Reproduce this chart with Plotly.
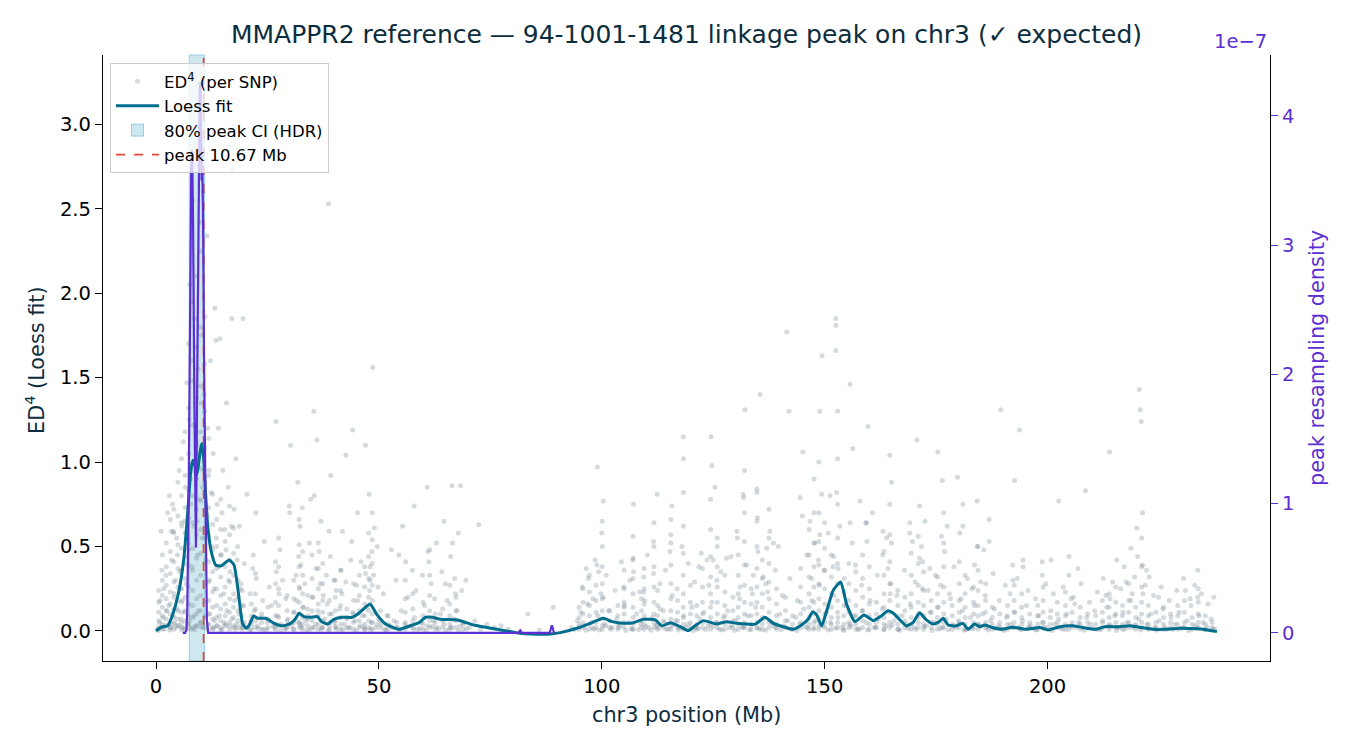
import plotly.graph_objects as go

# ---------------- data ----------------
loess_mb = [0.0, 1.0, 1.5, 2.6, 3.7, 5.0, 6.2, 7.1, 7.8, 8.3, 8.7, 9.1, 9.5, 10.0, 10.3, 10.7, 11.1, 11.6,
            12.3, 13.4, 14.6, 16.4, 17.5, 18.4, 19.4, 20.2, 20.9, 21.9, 22.8, 24.6, 26.5, 28.4, 30.2, 31.2,
            32.1, 33.2, 34.7, 36.2, 37.1, 38.5, 39.9, 41.8, 44.0, 45.5, 48.0, 49.6, 51.5, 54.5, 57.5, 59.0,
            60.5, 62.0, 63.8, 67.6, 71.3, 77.3, 81.7, 84.0, 88.5, 90.7, 94.4, 97.4, 100.3, 102.3, 104.9,
            107.1, 109.4, 112.0, 113.5, 114.6, 115.5, 117.6, 119.4, 120.9, 122.8, 125.8, 127.9, 130.3, 134.4,
            136.6, 138.5, 140.7, 143.0, 144.8, 146.3, 147.3, 148.2, 149.3, 150.4, 151.9, 153.6, 154.9, 156.8,
            158.8, 160.9, 162.7, 164.2, 165.4, 168.3, 169.8, 171.3, 172.8, 174.3, 175.7, 176.6, 177.7, 179.5,
            181.0, 182.2, 183.6, 184.8, 185.9, 187.4, 189.6, 192.2, 195.2, 198.2, 200.1, 202.7, 205.7, 208.7,
            210.9, 212.8, 216.1, 218.4, 220.6, 223.6, 226.6, 229.6, 232.5, 234.8, 238.0]
loess_ed4 = [0.0, 0.02, 0.025, 0.03, 0.095, 0.22, 0.42, 0.70, 0.95, 1.01, 0.98, 0.92, 0.98, 1.08, 1.11, 1.02, 0.82,
             0.62, 0.48, 0.39, 0.385, 0.42, 0.39, 0.24, 0.045, 0.016, 0.035, 0.089, 0.075, 0.075, 0.045, 0.03,
             0.045, 0.069, 0.105, 0.085, 0.081, 0.085, 0.055, 0.041, 0.069, 0.081, 0.081, 0.105, 0.16, 0.095,
             0.041, 0.01, 0.035, 0.049, 0.081, 0.081, 0.069, 0.065, 0.035, 0.006, -0.014, -0.018, -0.018, -0.01,
             0.016, 0.045, 0.075, 0.055, 0.045, 0.049, 0.069, 0.065, 0.03, 0.041, 0.049, 0.025, 0.002, 0.03,
             0.061, 0.041, 0.055, 0.045, 0.04, 0.081, 0.045, 0.025, 0.01, 0.035, 0.069, 0.114, 0.095, 0.03,
             0.114, 0.24, 0.29, 0.16, 0.055, 0.095, 0.061, 0.089, 0.12, 0.105, 0.03, 0.049, 0.108, 0.065, 0.041,
             0.055, 0.075, 0.035, 0.03, 0.045, 0.01, 0.041, 0.025, 0.035, 0.022, 0.01, 0.022, 0.01, 0.02, 0.006,
             0.025, 0.03, 0.016, 0.01, 0.025, 0.025, 0.031, 0.022, 0.01, 0.01, 0.016, 0.014, 0.01, -0.004]

# peak resampling density (units of 1e-7)
density_mb = [6.0, 6.5, 6.8, 7.0, 7.3, 7.6, 7.9, 8.1, 8.3, 8.6, 8.95, 9.2, 9.5, 9.8, 9.95, 10.1, 10.25, 10.4,
              10.55, 10.8, 11.1, 11.4, 11.7, 20.0, 40.0, 60.0, 80.0, 81.3, 81.7, 82.1, 88.3, 88.8, 89.3]
density_e7 = [0.0, 0.0, 0.02, 0.15, 1.0, 2.5, 3.6, 3.73, 3.2, 1.8, 0.66, 1.8, 3.4, 4.2, 4.26, 3.9, 3.5, 3.55,
              3.2, 2.0, 0.8, 0.1, 0.0, 0.0, 0.0, 0.0, 0.0, 0.0, 0.02, 0.0, 0.0, 0.06, 0.0]
density_unit = 1e-7

ci_low_mb, ci_high_mb = 7.45, 10.85
peak_mb = 10.67

# per-SNP ED^4 values (Mb, ED4)
snp_peak_region = [
    (0.3, 0.01), (0.8, 0.05), (1.2, 0.02), (1.6, 0.08), (2.0, 0.03), (2.4, 0.12), (2.9, 0.04), (3.3, 0.02),
    (3.8, 0.09), (4.2, 0.05), (4.7, 0.13), (5.1, 0.03), (5.6, 0.07), (6.0, 0.02), (6.5, 0.11), (7.0, 0.04),
    (7.5, 0.06), (8.0, 0.01), (8.5, 0.09), (9.0, 0.03), (9.5, 0.12), (10.0, 0.05), (10.5, 0.02), (11.0, 0.08),
    (11.5, 0.04), (12.0, 0.1), (12.6, 0.02), (13.1, 0.06), (13.7, 0.03), (14.2, 0.09), (14.8, 0.01), (15.3, 0.05),
    (15.9, 0.12), (16.4, 0.03), (17.0, 0.07), (17.5, 0.02), (18.1, 0.04), (18.7, 0.1), (19.2, 0.02), (19.8, 0.05),
    (1.1, 0.59), (1.3, 0.36), (2.6, 0.70), (3.0, 0.80), (3.4, 0.59), (3.7, 0.75), (3.9, 0.59), (4.4, 0.30),
    (4.8, 0.45), (5.2, 0.95), (5.5, 0.25), (5.8, 0.62), (6.1, 1.12), (6.3, 0.40), (6.6, 0.85), (6.9, 1.47),
    (7.2, 0.55), (7.4, 1.25), (7.6, 2.05), (7.8, 0.75), (8.0, 1.60), (8.2, 2.55), (8.4, 0.95), (8.6, 1.85),
    (8.8, 1.35), (9.0, 2.75), (9.2, 0.65), (9.4, 1.55), (9.6, 3.24), (9.8, 1.05), (10.0, 2.25), (10.2, 1.75),
    (10.4, 0.85), (10.6, 2.60), (10.8, 1.40), (11.0, 1.86), (11.2, 0.70), (11.4, 2.34), (11.6, 1.20),
    (11.9, 0.95), (12.2, 1.60), (12.5, 0.50), (12.8, 1.05), (13.2, 1.91), (13.4, 1.72), (13.7, 0.75),
    (14.0, 1.20), (14.3, 1.73), (14.6, 0.45), (15.0, 0.95), (15.4, 0.60), (15.8, 1.35), (16.2, 0.85),
    (16.6, 0.35), (17.0, 1.85), (17.2, 2.73), (17.5, 0.72), (17.9, 1.02), (18.3, 0.50), (18.7, 0.62),
    (19.1, 0.28), (19.5, 1.85), (19.8, 0.40),
    (0.9, 0.18), (1.7, 0.25), (2.2, 0.33), (2.8, 0.15), (3.5, 0.42), (4.1, 0.22), (4.6, 0.55), (5.3, 0.35),
    (5.9, 0.18), (6.4, 0.65), (6.8, 0.28), (7.3, 0.48), (7.7, 0.90), (8.1, 0.38), (8.5, 0.62), (9.1, 1.10),
    (9.3, 0.45), (9.7, 0.78), (10.1, 1.35), (10.3, 0.55), (10.7, 0.95), (11.1, 0.42), (11.5, 0.68),
    (12.0, 0.30), (12.4, 0.82), (13.0, 0.25), (13.5, 0.55), (14.1, 0.38), (14.8, 0.70), (15.2, 0.22),
    (15.7, 0.48), (16.3, 0.30), (16.9, 0.62), (17.6, 0.18), (18.2, 0.42), (18.9, 0.25), (19.6, 0.15),
]
snp_20_to_70 = [
    (20.4, 0.81), (22.4, 0.70), (24.3, 0.53), (21.7, 0.37), (21.8, 0.45), (28.4, 0.30), (29.9, 0.74),
    (30.0, 0.70), (32.3, 0.62), (32.5, 0.39), (32.8, 0.73), (35.5, 0.80), (37.0, 0.65), (38.8, 0.59),
    (39.9, 0.30), (41.8, 0.59), (43.7, 0.42), (45.2, 0.70), (47.8, 0.81), (48.0, 0.38), (48.0, 0.30),
    (49.6, 0.50), (54.5, 0.45), (57.5, 0.36), (57.9, 0.74), (61.2, 0.41), (64.6, 0.65), (66.1, 0.44),
    (67.2, 0.22), (68.3, 0.86), (72.4, 0.63), (66.4, 0.86),
    (26.9, 1.24), (30.2, 1.10), (31.8, 0.88), (35.4, 1.30), (36.1, 1.13), (38.7, 2.53), (42.6, 1.04),
    (44.1, 1.19), (48.6, 1.56), (47.0, 1.10), (39.2, 0.92), (34.7, 0.78),
    (20.5, 0.02), (21.3, 0.06), (22.0, 0.12), (22.8, 0.03), (23.5, 0.08), (24.2, 0.01), (25.0, 0.05),
    (25.9, 0.15), (26.6, 0.02), (27.3, 0.09), (27.6, 0.22), (28.1, 0.04), (28.9, 0.01), (29.6, 0.07),
    (30.4, 0.03), (31.0, 0.11), (31.5, 0.18), (32.0, 0.05), (32.2, 0.25), (32.6, 0.02), (33.1, 0.14),
    (33.6, 0.06), (34.1, 0.09), (34.6, 0.01), (35.2, 0.20), (35.8, 0.04), (36.3, 0.12), (36.8, 0.28),
    (37.3, 0.02), (37.8, 0.07), (38.4, 0.16), (38.9, 0.03), (39.4, 0.10), (40.0, 0.05), (40.6, 0.01),
    (41.2, 0.13), (41.7, 0.22), (42.3, 0.04), (42.9, 0.08), (43.5, 0.02), (44.1, 0.11), (44.6, 0.06),
    (45.2, 0.18), (45.8, 0.03), (46.3, 0.09), (46.9, 0.01), (47.4, 0.14), (47.9, 0.24), (48.3, 0.05),
    (48.8, 0.33), (49.3, 0.02), (49.9, 0.07),
    (21.1, 0.22), (22.5, 0.31), (23.9, 0.18), (25.4, 0.26), (27.0, 0.35), (27.8, 0.48), (29.1, 0.19),
    (31.4, 0.33), (32.0, 0.44), (33.4, 0.28), (34.4, 0.52), (35.9, 0.37), (36.6, 0.47), (37.5, 0.21),
    (38.2, 0.33), (39.1, 0.44), (40.4, 0.24), (41.5, 0.36), (42.6, 0.29), (43.9, 0.53), (45.0, 0.27),
    (46.0, 0.41), (47.0, 0.34), (48.4, 0.47), (49.0, 0.61), (49.8, 0.26),
    (50.5, 0.04), (51.2, 0.01), (51.9, 0.09), (52.6, 0.03), (53.4, 0.06), (54.1, 0.02), (55.0, 0.12),
    (55.8, 0.04), (56.5, 0.2), (57.2, 0.03), (58.0, 0.08), (58.7, 0.01), (59.5, 0.05), (60.2, 0.15),
    (60.9, 0.03), (61.7, 0.28), (62.3, 0.06), (63.0, 0.02), (63.8, 0.1), (64.6, 0.04), (65.3, 0.18),
    (66.0, 0.02), (66.8, 0.07), (67.5, 0.12), (68.2, 0.03), (69.0, 0.05), (70.3, 0.02), (71.5, 0.06),
    (72.8, 0.01), (74.2, 0.04), (75.9, 0.02), (77.4, 0.03), (79.0, 0.01), (83.4, 0.10), (89.1, 0.14),
    (86.0, 0.005),
    (52.8, 0.48), (55.3, 0.62), (60.8, 0.85), (62.9, 0.52), (64.1, 0.35), (67.8, 0.58), (69.5, 0.30),
    (51.0, 0.22), (53.8, 0.3), (56.0, 0.41), (58.3, 0.24), (59.8, 0.33), (61.0, 0.47), (62.5, 0.19),
    (64.9, 0.28), (66.5, 0.52), (67.0, 0.31), (68.6, 0.24),
]
snp_90_to_160 = [
    (95.6, 0.26), (97.0, 0.31), (98.5, 0.42), (98.9, 0.39), (99.3, 0.35), (100.3, 0.77), (100.0, 0.58),
    (100.3, 0.20), (104.9, 0.26), (105.0, 0.14), (107.1, 0.75), (107.0, 0.42), (107.1, 0.35), (109.4, 0.32),
    (109.4, 0.23), (111.6, 0.53), (111.6, 0.34), (112.4, 0.81), (115.5, 0.57), (115.3, 0.47), (115.7, 0.74),
    (119.4, 0.40), (122.3, 0.46), (123.6, 0.42), (125.0, 0.42), (125.9, 0.55), (125.8, 0.30), (125.4, 0.85),
    (128.0, 0.43), (130.3, 0.59), (130.4, 0.55), (131.8, 0.79), (134.8, 0.84), (134.8, 0.82), (134.9, 0.67),
    (137.7, 0.59), (138.5, 0.52), (137.0, 0.49), (139.6, 0.50), (136.2, 0.32), (134.0, 0.33), (144.5, 0.79),
    (145.0, 0.68), (146.7, 0.65), (148.9, 0.57), (149.3, 0.81), (151.2, 0.80), (152.7, 0.82), (155.7, 0.64),
    (157.9, 0.77), (159.4, 0.64), (156.2, 0.52), (147.1, 0.31), (148.6, 0.42), (151.9, 0.38), (153.0, 0.37),
    (99.0, 0.97), (118.3, 1.15), (118.3, 1.02), (124.5, 1.15), (124.7, 0.98), (132.1, 1.31), (131.7, 0.81),
    (135.5, 1.40), (141.5, 1.77), (142.0, 1.30), (145.1, 1.06), (148.9, 1.30), (149.4, 1.63), (152.5, 1.85),
    (152.5, 1.81), (152.5, 1.66), (155.7, 1.46), (159.7, 1.21), (156.3, 1.08),
    (96.5, 0.37), (98.0, 0.19), (101.0, 0.33), (103.0, 0.24), (104.4, 0.41), (106.3, 0.3), (108.5, 0.23),
    (110.2, 0.45), (113.0, 0.28), (114.3, 0.36), (116.9, 0.25), (118.0, 0.5), (120.8, 0.29), (121.8, 0.38),
    (124.0, 0.27), (126.7, 0.35), (129.0, 0.44), (131.0, 0.26), (132.5, 0.39), (133.8, 0.22), (135.0, 0.47),
    (136.8, 0.28), (138.9, 0.36), (140.5, 0.21), (142.2, 0.31), (143.9, 0.18), (146.0, 0.45), (147.8, 0.52),
    (149.9, 0.36), (150.8, 0.58), (152.0, 0.44), (153.4, 0.62), (154.4, 0.31), (156.9, 0.39), (158.3, 0.27),
]
snp_160_to_238 = [
    (159.2, 0.64), (160.7, 0.70), (159.5, 0.53), (165.0, 0.88), (163.1, 0.59), (163.9, 0.55), (165.0, 0.52),
    (164.2, 0.37), (169.1, 0.64), (169.1, 0.58), (169.7, 0.53), (171.3, 0.74), (172.5, 0.65), (171.7, 0.50),
    (171.3, 0.43), (173.6, 0.37), (176.2, 0.56), (177.5, 0.62), (176.9, 0.47), (176.4, 0.89), (181.0, 0.75),
    (180.3, 0.58), (181.0, 0.62), (184.2, 0.77), (184.2, 0.50), (185.7, 0.48), (186.9, 0.66), (186.9, 0.53),
    (183.6, 0.39), (192.6, 0.89), (192.2, 0.39), (194.5, 0.42), (194.5, 0.38), (192.2, 0.30), (198.8, 0.41),
    (200.8, 0.42), (198.8, 0.33), (202.5, 0.77), (204.8, 0.44), (204.8, 0.33), (206.8, 0.37), (205.3, 0.19),
    (213.1, 0.21), (214.6, 0.29), (215.5, 0.42), (217.6, 0.29), (218.7, 0.49), (219.5, 0.32), (220.0, 0.61),
    (221.3, 0.70), (221.3, 0.39), (222.2, 0.36), (222.8, 0.32), (224.9, 0.20), (230.9, 0.24), (233.7, 0.36),
    (233.7, 0.20),
    (164.6, 1.04), (170.7, 1.13), (175.4, 1.06), (179.8, 0.91), (189.5, 1.31), (193.7, 1.19), (208.5, 0.83),
    (213.9, 1.06), (220.6, 1.43), (220.8, 1.31), (221.0, 1.24),
    (161.8, 0.33), (163.0, 0.45), (164.8, 0.28), (166.2, 0.21), (167.9, 0.36), (170.3, 0.29), (172.0, 0.41),
    (173.2, 0.24), (174.9, 0.33), (176.0, 0.27), (178.0, 0.22), (179.0, 0.38), (180.6, 0.19), (182.0, 0.31),
    (183.0, 0.25), (185.0, 0.29), (186.0, 0.21), (187.8, 0.34), (189.2, 0.18), (190.5, 0.27), (191.6, 0.22),
    (193.2, 0.31), (195.6, 0.24), (197.3, 0.19), (199.6, 0.28), (201.3, 0.22), (203.5, 0.26), (205.8, 0.2),
    (207.5, 0.28), (209.4, 0.17), (211.2, 0.23), (212.5, 0.31), (214.0, 0.19), (216.4, 0.25), (217.2, 0.38),
    (219.0, 0.22), (220.2, 0.44), (221.9, 0.27), (223.8, 0.21), (225.5, 0.26), (227.3, 0.18), (229.0, 0.24),
    (230.5, 0.31), (232.0, 0.19), (233.0, 0.27), (234.5, 0.22), (236.0, 0.16), (237.3, 0.2),
]
snp_baseline_90_to_238 = [
    (93.2, 0.02), (94.5, 0.06), (95.3, 0.11), (96.1, 0.03), (96.8, 0.16), (97.6, 0.05), (98.3, 0.01), (99.1, 0.09),
    (99.8, 0.22), (100.6, 0.04), (101.5, 0.12), (102.4, 0.02), (103.3, 0.07), (104.2, 0.03), (105.1, 0.15),
    (106.0, 0.05), (106.9, 0.01), (107.8, 0.10), (108.7, 0.04), (109.6, 0.18), (110.5, 0.02), (111.3, 0.08),
    (112.2, 0.03), (113.1, 0.13), (114.0, 0.05), (114.9, 0.01), (115.8, 0.21), (116.6, 0.06), (117.5, 0.02),
    (118.4, 0.09), (119.3, 0.04), (120.2, 0.14), (121.1, 0.02), (122.0, 0.07), (122.9, 0.11), (123.8, 0.03),
    (124.7, 0.17), (125.6, 0.05), (126.4, 0.01), (127.3, 0.08), (128.2, 0.12), (129.1, 0.03), (130.0, 0.06),
    (130.9, 0.19), (131.8, 0.02), (132.7, 0.09), (133.6, 0.04), (134.5, 0.14), (135.4, 0.01), (136.3, 0.07),
    (137.2, 0.23), (138.1, 0.05), (139.0, 0.02), (139.9, 0.10), (140.8, 0.03), (141.7, 0.06), (142.6, 0.01),
    (143.5, 0.08), (144.4, 0.04), (145.3, 0.13), (146.2, 0.02), (147.1, 0.18), (148.0, 0.06), (148.8, 0.27),
    (149.6, 0.03), (150.4, 0.11), (151.3, 0.05), (152.1, 0.21), (153.0, 0.08), (153.9, 0.02), (154.8, 0.15),
    (155.7, 0.04), (156.6, 0.09), (157.5, 0.01), (158.4, 0.12), (159.3, 0.05), (160.2, 0.18), (161.1, 0.02),
    (162.0, 0.07), (162.9, 0.13), (163.8, 0.03), (164.7, 0.22), (165.6, 0.06), (166.5, 0.01), (167.4, 0.09),
    (168.3, 0.04), (169.2, 0.16), (170.1, 0.02), (171.0, 0.08), (171.9, 0.25), (172.8, 0.03), (173.7, 0.11),
    (174.6, 0.05), (175.5, 0.14), (176.4, 0.02), (177.3, 0.07), (178.2, 0.19), (179.1, 0.03), (180.0, 0.06),
    (180.9, 0.12), (181.8, 0.01), (182.7, 0.08), (183.6, 0.15), (184.5, 0.04), (185.4, 0.10), (186.3, 0.02),
    (187.2, 0.06), (188.1, 0.13), (189.0, 0.03), (189.9, 0.01), (190.8, 0.08), (191.7, 0.04), (192.6, 0.11),
    (193.5, 0.02), (194.4, 0.06), (195.3, 0.15), (196.2, 0.03), (197.1, 0.01), (198.0, 0.09), (198.9, 0.05),
    (199.8, 0.02), (200.7, 0.12), (201.6, 0.04), (202.5, 0.07), (203.4, 0.01), (204.3, 0.10), (205.2, 0.03),
    (206.1, 0.16), (207.0, 0.05), (207.9, 0.02), (208.8, 0.08), (209.7, 0.04), (210.6, 0.12), (211.5, 0.01),
    (212.4, 0.06), (213.3, 0.14), (214.2, 0.03), (215.1, 0.09), (216.0, 0.02), (216.9, 0.11), (217.8, 0.05),
    (218.7, 0.18), (219.6, 0.03), (220.5, 0.07), (221.4, 0.22), (222.3, 0.04), (223.2, 0.10), (224.1, 0.02),
    (225.0, 0.06), (225.9, 0.13), (226.8, 0.01), (227.7, 0.08), (228.6, 0.04), (229.5, 0.11), (230.4, 0.02),
    (231.3, 0.06), (232.2, 0.15), (233.1, 0.03), (234.0, 0.09), (234.9, 0.05), (235.8, 0.02), (236.7, 0.07),
    (237.6, 0.01),
]
snp_low_band = [
    (0.5, 0.003), (1.9, 0.012), (3.1, 0.006), (4.5, 0.02), (5.8, 0.004), (7.2, 0.015), (8.7, 0.008), (10.1, 0.025),
    (11.6, 0.005), (13.0, 0.018), (14.5, 0.002), (15.6, 0.03), (17.8, 0.01), (19.5, 0.022), (21.0, 0.004),
    (23.0, 0.015), (24.8, 0.007), (26.2, 0.028), (27.9, 0.003), (29.2, 0.016), (30.8, 0.009), (32.4, 0.035),
    (33.9, 0.005), (35.5, 0.02), (37.0, 0.012), (38.6, 0.004), (40.3, 0.026), (41.9, 0.008), (43.2, 0.017),
    (44.9, 0.003), (46.6, 0.022), (48.1, 0.01), (49.6, 0.04), (51.6, 0.006), (53.0, 0.018), (54.6, 0.004),
    (56.2, 0.025), (57.8, 0.009), (59.2, 0.015), (60.6, 0.003), (62.0, 0.028), (63.4, 0.011), (65.0, 0.006),
    (66.4, 0.02), (67.9, 0.004), (69.6, 0.013), (93.9, 0.008), (95.0, 0.025), (96.4, 0.004), (97.9, 0.017),
    (99.4, 0.006), (100.9, 0.03), (102.0, 0.01), (103.7, 0.021), (105.4, 0.003), (106.5, 0.015), (108.2, 0.008),
    (109.9, 0.027), (111.0, 0.004), (112.7, 0.018), (114.4, 0.011), (116.1, 0.035), (117.2, 0.006), (118.8, 0.02),
    (120.5, 0.003), (121.6, 0.014), (123.3, 0.009), (125.0, 0.026), (126.9, 0.005), (128.6, 0.019),
    (129.8, 0.002), (131.4, 0.024), (133.1, 0.007), (134.9, 0.016), (136.7, 0.004), (138.4, 0.03), (140.2, 0.009),
    (141.9, 0.013), (143.8, 0.003), (145.7, 0.022), (147.5, 0.01), (149.2, 0.04), (150.8, 0.006), (152.5, 0.018),
    (154.2, 0.003), (155.9, 0.027), (157.7, 0.012), (159.6, 0.005), (161.4, 0.021), (163.3, 0.008),
    (165.1, 0.033), (166.9, 0.004), (168.7, 0.016), (170.5, 0.009), (172.3, 0.025), (174.1, 0.003),
    (175.9, 0.014), (177.7, 0.007), (179.5, 0.02), (181.3, 0.004), (183.1, 0.012), (184.9, 0.028), (186.7, 0.006),
    (188.5, 0.015), (190.3, 0.003), (192.1, 0.019), (193.9, 0.008), (195.7, 0.024), (197.5, 0.005),
    (199.3, 0.013), (201.1, 0.002), (202.9, 0.017), (204.7, 0.009), (206.5, 0.022), (208.3, 0.004),
    (210.1, 0.014), (211.9, 0.007), (213.7, 0.027), (215.5, 0.003), (217.3, 0.012), (219.1, 0.02), (220.9, 0.006),
    (222.7, 0.016), (224.5, 0.004), (226.3, 0.021), (228.1, 0.008), (229.9, 0.013), (231.7, 0.003),
    (233.5, 0.018), (235.3, 0.007), (237.1, 0.011),
]
# SNP clusters that show as vertical streaks: (position Mb, [ED4 values])
snp_streaks = [
    (0.6, [0.02, 0.06, 0.11, 0.17, 0.24]), (1.4, [0.01, 0.04, 0.09, 0.14, 0.21, 0.30, 0.45]),
    (2.3, [0.03, 0.07, 0.12, 0.19, 0.27, 0.38, 0.52]), (3.2, [0.02, 0.05, 0.10, 0.16, 0.23, 0.34, 0.47, 0.66]),
    (4.0, [0.01, 0.04, 0.08, 0.13, 0.20, 0.29, 0.41, 0.58, 0.72]),
    (4.9, [0.03, 0.07, 0.12, 0.18, 0.26, 0.37, 0.51, 0.68, 0.88]),
    (5.7, [0.02, 0.05, 0.11, 0.17, 0.25, 0.36, 0.49, 0.64, 0.80, 1.02]),
    (6.5, [0.01, 0.06, 0.12, 0.20, 0.31, 0.44, 0.58, 0.73, 0.92, 1.18]),
    (7.3, [0.04, 0.09, 0.16, 0.26, 0.39, 0.52, 0.67, 0.83, 1.05, 1.32, 1.70]),
    (8.2, [0.02, 0.08, 0.15, 0.24, 0.36, 0.49, 0.64, 0.80, 0.99, 1.22, 1.48, 1.95]),
    (9.1, [0.03, 0.10, 0.19, 0.30, 0.43, 0.57, 0.72, 0.90, 1.12, 1.38, 1.68, 2.10]),
    (10.0, [0.05, 0.12, 0.21, 0.33, 0.46, 0.60, 0.77, 0.96, 1.18, 1.45, 1.80, 2.42]),
    (10.9, [0.02, 0.09, 0.17, 0.28, 0.40, 0.55, 0.71, 0.88, 1.08, 1.30, 1.58]),
    (11.8, [0.04, 0.10, 0.18, 0.29, 0.41, 0.56, 0.73, 0.92, 1.14]),
    (12.7, [0.01, 0.07, 0.14, 0.23, 0.35, 0.48, 0.63, 0.81]), (13.6, [0.03, 0.08, 0.15, 0.25, 0.37, 0.50, 0.66]),
    (14.5, [0.02, 0.06, 0.13, 0.21, 0.32, 0.45, 0.60, 0.78]), (15.5, [0.04, 0.09, 0.16, 0.26, 0.38, 0.53]),
    (16.5, [0.01, 0.05, 0.11, 0.19, 0.29, 0.42, 0.57, 0.74]), (17.4, [0.03, 0.08, 0.14, 0.22, 0.33, 0.46, 0.61]),
    (18.4, [0.02, 0.06, 0.12, 0.20, 0.30]), (19.3, [0.01, 0.04, 0.09, 0.15, 0.24]),
    (21.4, [0.01, 0.04, 0.09, 0.16]), (22.3, [0.02, 0.06, 0.13, 0.22, 0.34]), (23.7, [0.01, 0.05, 0.10]),
    (25.1, [0.02, 0.07, 0.14]), (26.8, [0.01, 0.04, 0.09, 0.17, 0.28, 0.41]),
    (27.5, [0.03, 0.08, 0.15, 0.25, 0.38, 0.55]), (29.4, [0.02, 0.06, 0.12, 0.21]),
    (30.9, [0.01, 0.05, 0.11, 0.19, 0.30]), (32.1, [0.02, 0.05, 0.10, 0.17, 0.26, 0.38, 0.51, 0.66]),
    (32.9, [0.01, 0.04, 0.08, 0.14, 0.22, 0.33, 0.47]), (34.0, [0.03, 0.07, 0.13, 0.21]),
    (35.0, [0.02, 0.06, 0.12, 0.20, 0.31, 0.45]), (36.4, [0.01, 0.04, 0.09, 0.16, 0.25, 0.37, 0.52]),
    (37.4, [0.02, 0.06, 0.11, 0.18, 0.28, 0.40]), (38.9, [0.01, 0.05, 0.10, 0.18]),
    (40.2, [0.02, 0.06, 0.12, 0.20, 0.30]), (41.4, [0.01, 0.04, 0.08, 0.15, 0.24, 0.36]),
    (42.8, [0.02, 0.07, 0.13]), (44.3, [0.01, 0.05, 0.10, 0.18, 0.28]), (45.6, [0.02, 0.06, 0.12, 0.21, 0.33]),
    (46.8, [0.01, 0.04, 0.09, 0.16, 0.26, 0.38]), (47.7, [0.02, 0.06, 0.12, 0.20, 0.31, 0.44, 0.58]),
    (48.5, [0.01, 0.05, 0.10, 0.18, 0.27, 0.40, 0.54, 0.70]), (50.3, [0.02, 0.06, 0.12]),
    (52.0, [0.01, 0.04, 0.09]), (54.0, [0.02, 0.05]), (55.9, [0.01, 0.05, 0.11, 0.19, 0.30]),
    (57.6, [0.02, 0.06, 0.13, 0.22]), (59.9, [0.01, 0.04, 0.09, 0.17]),
    (61.4, [0.02, 0.06, 0.12, 0.21, 0.33, 0.48]), (62.6, [0.01, 0.05, 0.10]), (64.3, [0.02, 0.06, 0.13]),
    (65.9, [0.01, 0.04, 0.09, 0.16, 0.27]), (67.3, [0.02, 0.06, 0.12, 0.20]), (68.9, [0.01, 0.04]),
    (94.9, [0.01, 0.04, 0.08, 0.14]), (95.8, [0.02, 0.05, 0.10, 0.17, 0.25]),
    (97.2, [0.01, 0.04, 0.09, 0.15, 0.23, 0.33]), (98.7, [0.02, 0.05, 0.11, 0.18, 0.27]),
    (100.1, [0.01, 0.03, 0.07, 0.12, 0.19, 0.28, 0.38, 0.50, 0.65]), (101.8, [0.02, 0.06, 0.12]),
    (103.6, [0.01, 0.04, 0.09, 0.15]), (105.0, [0.02, 0.05, 0.10, 0.17, 0.25, 0.36]),
    (107.0, [0.01, 0.04, 0.08, 0.14, 0.22, 0.31, 0.43, 0.56]), (108.9, [0.02, 0.06, 0.12, 0.19]),
    (109.5, [0.01, 0.04, 0.09, 0.16, 0.25, 0.37]), (111.7, [0.02, 0.05, 0.10, 0.17, 0.26, 0.38, 0.50, 0.64]),
    (112.5, [0.01, 0.04, 0.09, 0.15, 0.24]), (113.8, [0.02, 0.06, 0.12]),
    (115.5, [0.01, 0.03, 0.07, 0.12, 0.19, 0.28, 0.39, 0.52, 0.66]), (117.0, [0.02, 0.06, 0.11, 0.18]),
    (118.3, [0.01, 0.04, 0.08, 0.14, 0.22, 0.33, 0.46, 0.62, 0.82]), (119.9, [0.02, 0.05, 0.10, 0.17, 0.27]),
    (121.3, [0.01, 0.04, 0.09, 0.15]), (122.6, [0.02, 0.05, 0.10, 0.17, 0.26, 0.37]),
    (124.4, [0.01, 0.04, 0.08, 0.14, 0.22, 0.32, 0.44, 0.60, 0.78]),
    (125.9, [0.02, 0.05, 0.10, 0.17, 0.26, 0.38, 0.50]), (127.6, [0.01, 0.04, 0.09, 0.15, 0.23, 0.33]),
    (129.4, [0.02, 0.06, 0.12, 0.20]), (130.6, [0.01, 0.04, 0.08, 0.14, 0.22, 0.33, 0.45]),
    (132.0, [0.02, 0.05, 0.10, 0.17, 0.27, 0.39, 0.53, 0.70, 0.95]), (133.5, [0.01, 0.04, 0.09, 0.16, 0.25]),
    (134.8, [0.02, 0.05, 0.10, 0.17, 0.26, 0.37, 0.50, 0.65]), (136.0, [0.01, 0.04, 0.08, 0.14, 0.22, 0.31, 0.42]),
    (137.5, [0.02, 0.05, 0.11, 0.19, 0.29, 0.40, 0.55, 0.72]), (139.2, [0.01, 0.04, 0.09, 0.16, 0.25]),
    (141.2, [0.02, 0.06, 0.12, 0.20]), (142.8, [0.01, 0.04, 0.09]), (144.6, [0.02, 0.05, 0.10, 0.17, 0.26, 0.37]),
    (146.5, [0.01, 0.04, 0.08, 0.14, 0.22, 0.32, 0.45, 0.60]),
    (147.6, [0.02, 0.05, 0.10, 0.17, 0.26, 0.38, 0.52, 0.70, 0.90]),
    (148.7, [0.01, 0.03, 0.07, 0.12, 0.19, 0.28, 0.39, 0.53, 0.70, 1.00]),
    (150.0, [0.02, 0.05, 0.10, 0.16, 0.25, 0.36, 0.49, 0.64]), (151.5, [0.01, 0.04, 0.08, 0.14, 0.22, 0.32, 0.45]),
    (152.9, [0.02, 0.05, 0.11, 0.18, 0.28, 0.40, 0.55, 0.75, 1.02, 1.30]), (154.3, [0.01, 0.04, 0.09, 0.15, 0.23]),
    (155.4, [0.02, 0.05, 0.11, 0.18, 0.28, 0.40]), (157.0, [0.01, 0.04, 0.09, 0.15, 0.24, 0.35]),
    (158.5, [0.02, 0.06, 0.12, 0.20, 0.31, 0.45]), (160.0, [0.01, 0.04, 0.09, 0.16, 0.25, 0.38]),
    (161.6, [0.02, 0.05, 0.10, 0.17]), (163.3, [0.01, 0.04, 0.08, 0.14, 0.22, 0.33, 0.47]),
    (164.6, [0.02, 0.05, 0.11, 0.18, 0.28, 0.41, 0.57, 0.75]), (166.4, [0.01, 0.04, 0.09, 0.15, 0.24]),
    (168.0, [0.02, 0.06, 0.12, 0.20]), (169.4, [0.01, 0.04, 0.08, 0.14, 0.22, 0.33, 0.46]),
    (171.0, [0.02, 0.05, 0.10, 0.17, 0.27, 0.40, 0.56]), (172.2, [0.01, 0.04, 0.09, 0.15, 0.24, 0.35]),
    (173.9, [0.02, 0.05, 0.11, 0.18]), (175.3, [0.01, 0.04, 0.08, 0.14, 0.22, 0.32]),
    (176.7, [0.02, 0.05, 0.10, 0.17, 0.26, 0.38, 0.52, 0.70]), (178.6, [0.01, 0.04, 0.09, 0.15]),
    (180.2, [0.02, 0.05, 0.11, 0.18, 0.28, 0.41]), (181.5, [0.01, 0.04, 0.08, 0.14, 0.22, 0.33]),
    (183.4, [0.02, 0.05, 0.10, 0.17, 0.26]), (184.4, [0.01, 0.04, 0.09, 0.15, 0.24, 0.36, 0.50]),
    (186.1, [0.02, 0.05, 0.11, 0.18, 0.28]), (187.6, [0.01, 0.04, 0.08, 0.14]), (189.3, [0.02, 0.05, 0.10]),
    (191.0, [0.01, 0.04, 0.09, 0.15]), (192.5, [0.02, 0.05, 0.11, 0.18, 0.27]),
    (194.2, [0.01, 0.04, 0.08, 0.14, 0.22]), (196.0, [0.02, 0.05, 0.10]), (197.8, [0.01, 0.04, 0.09, 0.15]),
    (199.0, [0.02, 0.05, 0.11, 0.18, 0.26]), (200.6, [0.01, 0.04, 0.08]), (202.2, [0.02, 0.05, 0.10, 0.17]),
    (204.0, [0.01, 0.04, 0.09, 0.15, 0.23]), (205.5, [0.02, 0.05, 0.11]), (207.3, [0.01, 0.04, 0.08, 0.14]),
    (209.0, [0.02, 0.05, 0.10]), (210.8, [0.01, 0.04, 0.09]), (212.3, [0.02, 0.05, 0.11, 0.18]),
    (213.8, [0.01, 0.04, 0.08, 0.14, 0.22]), (215.3, [0.02, 0.05, 0.10, 0.17, 0.26]),
    (216.8, [0.01, 0.04, 0.09, 0.15]), (218.2, [0.02, 0.05, 0.11, 0.18, 0.28]), (219.8, [0.01, 0.04, 0.08, 0.14]),
    (221.1, [0.02, 0.05, 0.10, 0.17, 0.26, 0.38, 0.55]), (222.6, [0.01, 0.04, 0.09, 0.15]),
    (224.3, [0.02, 0.05, 0.11]), (226.0, [0.01, 0.04, 0.08, 0.14]), (227.6, [0.02, 0.05, 0.10]),
    (229.2, [0.01, 0.04, 0.09, 0.15]), (230.7, [0.02, 0.05, 0.11, 0.18]), (232.4, [0.01, 0.04, 0.08]),
    (233.8, [0.02, 0.05, 0.10, 0.17, 0.25]), (235.4, [0.01, 0.04, 0.09]), (236.9, [0.02, 0.05]),
]

x_tick_vals = [0, 50, 100, 150, 200]
y_tick_vals = [0.0, 0.5, 1.0, 1.5, 2.0, 2.5, 3.0]
y2_tick_labels = ["0", "1", "2", "3", "4"]

# ---------------- styling ----------------
FONT = "DejaVu Sans"
TEAL = "#006e8c"
PURPLE = "#5b2fd3"
RED = "#e8483b"
DARK = "#0c2d3e"
SNP_COLOR = "rgba(115,132,146,0.30)"

all_snps = (snp_peak_region + snp_20_to_70 + snp_90_to_160 + snp_160_to_238
            + snp_baseline_90_to_238 + snp_low_band)
snp_x = [p[0] for p in all_snps]
snp_y = [p[1] for p in all_snps]
for pos, vals in snp_streaks:
    snp_x.extend([pos] * len(vals))
    snp_y.extend(vals)

fig = go.Figure()

fig.add_trace(go.Scatter(
    x=snp_x, y=snp_y, mode="markers", name="ED<sup>4</sup> (per SNP)",
    marker=dict(size=5, color=SNP_COLOR, line=dict(width=0)),
    legendrank=1, hoverinfo="skip"))

fig.add_trace(go.Scatter(
    x=loess_mb, y=loess_ed4, mode="lines", name="Loess fit",
    line=dict(color=TEAL, width=3, shape="spline", smoothing=0.5), legendrank=2))

fig.add_trace(go.Scatter(
    x=density_mb, y=[v * density_unit for v in density_e7], mode="lines",
    line=dict(color=PURPLE, width=2.2), yaxis="y2", showlegend=False))

# 80% CI band and peak line
fig.add_shape(type="rect", xref="x", yref="paper", x0=ci_low_mb, x1=ci_high_mb, y0=0, y1=1,
              fillcolor="rgba(173,216,230,0.6)", line=dict(color="rgba(120,190,215,0.7)", width=1),
              layer="below", showlegend=True, name="80% peak CI (HDR)", legendrank=3)
fig.add_shape(type="line", xref="x", yref="paper", x0=peak_mb, x1=peak_mb, y0=0, y1=1,
              line=dict(color=RED, width=1.8, dash="dash"),
              layer="below", showlegend=True, name=f"peak {peak_mb:.2f} Mb", legendrank=4)

W, H = 1350, 750
ML, MR, MT, MB = 103, 80, 55, 89
PW, PH = W - ML - MR, H - MT - MB


def px_x(p):
    return (p - ML) / PW


def px_y(p):
    return (H - MB - p) / PH


fig.update_layout(
    width=W, height=H,
    margin=dict(l=ML, r=MR, t=MT, b=MB, pad=0),
    paper_bgcolor="white", plot_bgcolor="white",
    font=dict(family=FONT, size=19.5, color="black"),
    title=dict(text="MMAPPR2 reference — 94-1001-1481 linkage peak on chr3 (✓ expected)",
               xref="paper", x=px_x(686.5), xanchor="center", yref="container", y=1 - 34 / H,
               yanchor="middle", font=dict(family=FONT, size=25, color=DARK)),
    xaxis=dict(range=[-11.9, 249.9], tickvals=x_tick_vals, ticks="outside", ticklen=7, tickwidth=1.3,
               tickcolor="black", showline=True, linecolor="black", linewidth=1.3, showgrid=False,
               zeroline=False, mirror=False, tickfont=dict(size=19.5, color="black")),
    yaxis=dict(range=[-0.178, 3.41], tickvals=y_tick_vals, tickformat=".1f", ticks="outside", ticklen=7,
               tickwidth=1.3, tickcolor="black", showline=True, linecolor="black", linewidth=1.3,
               showgrid=False, zeroline=False, tickfont=dict(size=19.5, color="black")),
    yaxis2=dict(overlaying="y", side="right", range=[-0.217e-7, 4.47e-7],
                tickvals=[i * density_unit for i in range(5)], ticktext=y2_tick_labels,
                ticks="outside", ticklen=7, tickwidth=1.3, tickcolor=PURPLE, showline=True,
                linecolor="black", linewidth=1.3, showgrid=False, zeroline=False,
                tickfont=dict(size=19.5, color=PURPLE)),
    legend=dict(x=px_x(110), y=px_y(63), xanchor="left", yanchor="top",
                bgcolor="rgba(255,255,255,0.75)", bordercolor="#cccccc", borderwidth=1,
                font=dict(family=FONT, size=16.5, color="black"), tracegroupgap=0, itemwidth=43),
    showlegend=True,
)

fig.add_annotation(text="chr3 position (Mb)", xref="paper", yref="paper", x=px_x(686.5), y=px_y(715),
                   xanchor="center", yanchor="middle", showarrow=False,
                   font=dict(family=FONT, size=20.8, color=DARK))
fig.add_annotation(text="ED<sup>4</sup> (Loess fit)", xref="paper", yref="paper", x=px_x(35), y=px_y(360),
                   xanchor="center", yanchor="middle", textangle=-90, showarrow=False,
                   font=dict(family=FONT, size=20.8, color=DARK))
fig.add_annotation(text="peak resampling density", xref="paper", yref="paper", x=px_x(1317), y=px_y(358),
                   xanchor="center", yanchor="middle", textangle=-90, showarrow=False,
                   font=dict(family=FONT, size=20.8, color=PURPLE))
fig.add_annotation(text="1e−7", xref="paper", yref="paper", x=px_x(1269), y=px_y(42),
                   xanchor="right", yanchor="middle", showarrow=False,
                   font=dict(family=FONT, size=19.5, color=PURPLE))

fig.write_html("out.html")
